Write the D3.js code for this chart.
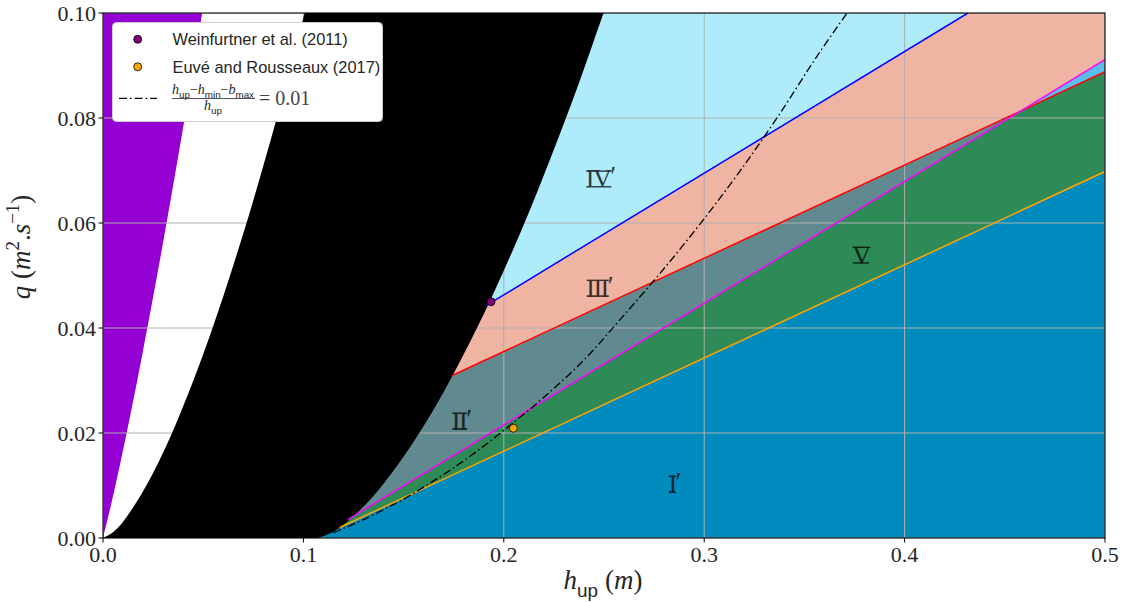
<!DOCTYPE html>
<html>
<head>
<meta charset="utf-8">
<script src="https://cdn.jsdelivr.net/npm/d3@7"></script>
<style>
  html, body { margin: 0; padding: 0; background: #ffffff; }
  svg { display: block; }
</style>
</head>
<body>
<svg id="chart" width="1136" height="602"></svg>
<script>
// ---------------- data ----------------
const xTicks = [0, 0.1, 0.2, 0.3, 0.4, 0.5];
const yTicks = [0, 0.02, 0.04, 0.06, 0.08, 0.10];

// boundary between purple region and white region (h, q)
const purpleBoundary = [[0,0],[0.0032,0.005],[0.0062,0.01],[0.0118,0.02],[0.0171,0.03],[0.0221,0.04],
  [0.0270,0.05],[0.0317,0.06],[0.0363,0.07],[0.0408,0.08],[0.0452,0.09],[0.0495,0.10]];

// left edge of the black region (h, q)
const blackLeft = [[0,0],[0.005,0.0011],[0.01,0.0031],[0.015,0.0058],[0.02,0.0089],[0.025,0.0124],
  [0.03,0.0163],[0.035,0.0205],[0.04,0.0251],[0.045,0.0299],[0.05,0.0350],[0.055,0.0404],[0.06,0.0460],
  [0.065,0.0519],[0.07,0.0580],[0.075,0.0643],[0.08,0.0709],[0.085,0.0776],[0.09,0.0846],[0.095,0.0917],
  [0.1,0.0991],[0.1006,0.10]];

// right edge of the black region (h, q)
const blackRight = [[0.107,0],[0.1140,0.001],[0.1199,0.0025],[0.1274,0.005],[0.1337,0.0075],[0.1393,0.01],
  [0.1491,0.015],[0.1578,0.02],[0.1658,0.025],[0.1731,0.03],[0.1800,0.035],[0.1866,0.04],[0.1929,0.045],
  [0.1989,0.05],[0.2047,0.055],[0.2103,0.06],[0.2157,0.065],[0.2209,0.07],[0.2260,0.075],[0.2310,0.08],
  [0.2359,0.085],[0.2406,0.09],[0.2452,0.095],[0.2498,0.10]];

// coloured regions (polygon vertices h, q)
const regionIV  = [[0.107,0.0248],[0.4316,0.10],[0.107,0.10]];
const regionIII = [[0.107,0.0190],[0.107,0.0248],[0.4316,0.10],[0.5,0.10],[0.5,0.0911],[0.4582,0.0814]];
const regionII  = [[0.107,0],[0.107,0.0190],[0.4582,0.0814]];
const regionX   = [[0.4582,0.0814],[0.5,0.0911],[0.5,0.0888]];
const regionV   = [[0.107,0],[0.4582,0.0814],[0.5,0.0888],[0.5,0.0698]];
const regionI   = [[0.107,0],[0.5,0.0698],[0.5,0]];

// boundary lines (h, q)
const blueLine    = [[0.1913,0.0443],[0.4316,0.10]];
const redLine     = [[0.1745,0.0310],[0.5,0.0888]];
const magentaLine = [[0.1222,0.0035],[0.5,0.0911]];
const orangeLine  = [[0.1181,0.0020],[0.5,0.0698]];

// (h_up - h_min - b_max)/h_up = 0.01 curve (h, q)
const dashDotCurve = [[0.115,0.0010],[0.12,0.0018],[0.13,0.0035],[0.14,0.0054],[0.15,0.0074],[0.16,0.0097],
  [0.17,0.0121],[0.18,0.0147],[0.19,0.0175],[0.2,0.0205],[0.22,0.0268],[0.24,0.0339],[0.258,0.0416],
  [0.2775,0.0502],[0.2975,0.0596],[0.3173,0.0696],[0.337,0.0804],[0.3565,0.0919],[0.3713,0.10]];

// experiments
const experiments = [
  { label: "Weinfurtner et al. (2011)", h: 0.1936, q: 0.0450, color: "#800080" },
  { label: "Euvé and Rousseaux (2017)", h: 0.2048, q: 0.0209, color: "#ffa500" }
];

// region labels
const regionLabels = [
  { num: "IV", prime: true,  h: 0.2485, q: 0.0684 },
  { num: "III", prime: true, h: 0.2480, q: 0.0476 },
  { num: "II", prime: true,  h: 0.1791, q: 0.0223 },
  { num: "V", prime: false,  h: 0.3782, q: 0.0539 },
  { num: "I", prime: true,   h: 0.2854, q: 0.0103 }
];

// ---------------- drawing ----------------
const svg = d3.select("#chart");
const x = d3.scaleLinear().domain([0, 0.5]).range([103, 1105]);
const y = d3.scaleLinear().domain([0, 0.1]).range([538, 13]);

const serif = "'Liberation Serif', 'DejaVu Serif', serif";
const sans = "'Liberation Sans', 'DejaVu Sans', sans-serif";

svg.append("defs").append("clipPath").attr("id", "plotclip")
  .append("rect").attr("x", x(0)).attr("y", y(0.1)).attr("width", x(0.5) - x(0)).attr("height", y(0) - y(0.1));

const plot = svg.append("g").attr("clip-path", "url(#plotclip)");

const poly = d3.line().x(d => x(d[0])).y(d => y(d[1])).curve(d3.curveLinearClosed);
const straight = d3.line().x(d => x(d[0])).y(d => y(d[1]));
const smooth = d3.line().x(d => x(d[0])).y(d => y(d[1])).curve(d3.curveCatmullRom);

// purple region: left of the purple boundary
plot.append("path")
  .attr("d", smooth(purpleBoundary) + straight([[0, 0.1], [0, 0]]).replace(/^M/, "L") + "Z")
  .attr("fill", "#9400d3");

const regions = [
  { pts: regionI,   color: "#008bbe" },
  { pts: regionV,   color: "#2e8b57" },
  { pts: regionII,  color: "#618a90" },
  { pts: regionX,   color: "#59bfea" },
  { pts: regionIII, color: "#efb4a2" },
  { pts: regionIV,  color: "#aeebfb" }
];
plot.selectAll("path.region").data(regions).join("path")
  .attr("class", "region")
  .attr("d", d => poly(d.pts))
  .attr("fill", d => d.color)
  .attr("stroke", d => d.color).attr("stroke-width", 0.5);

// grid
const grid = plot.append("g");
grid.selectAll("line.gx").data(xTicks).join("line")
  .attr("x1", d => x(d)).attr("x2", d => x(d)).attr("y1", y(0)).attr("y2", y(0.1))
  .attr("stroke", "#b0b0b0").attr("stroke-width", 1);
grid.selectAll("line.gy").data(yTicks).join("line")
  .attr("y1", d => y(d)).attr("y2", d => y(d)).attr("x1", x(0)).attr("x2", x(0.5))
  .attr("stroke", "#b0b0b0").attr("stroke-width", 1);

// black region
const blackRightRev = blackRight.slice().reverse();
plot.append("path")
  .attr("d", smooth(blackLeft) + smooth(blackRightRev).replace(/^M/, "L") + "Z")
  .attr("fill", "#000000");

// lines
const lines = [
  { pts: blueLine, color: "#0000ff" },
  { pts: redLine, color: "#ff0000" },
  { pts: magentaLine, color: "#ff00ff" },
  { pts: orangeLine, color: "#ffa500" }
];
plot.selectAll("path.bline").data(lines).join("path")
  .attr("class", "bline")
  .attr("d", d => straight(d.pts))
  .attr("fill", "none").attr("stroke", d => d.color).attr("stroke-width", 1.5);

plot.append("path")
  .attr("d", smooth(dashDotCurve))
  .attr("fill", "none").attr("stroke", "#000").attr("stroke-width", 1.3)
  .attr("stroke-dasharray", "8,3,1.6,3");

// markers
plot.selectAll("circle.exp").data(experiments).join("circle")
  .attr("class", "exp")
  .attr("cx", d => x(d.h)).attr("cy", d => y(d.q)).attr("r", 4)
  .attr("fill", d => d.color).attr("stroke", "#000").attr("stroke-width", 0.8);

// region labels (roman numerals with joined top and bottom serif bars)
const rl = svg.append("g");
const labelSize = 26;
regionLabels.forEach(d => {
  const g = rl.append("g").attr("opacity", 0.75);
  const baseY = y(d.q) + labelSize * 0.33;
  const t = g.append("text")
    .attr("x", x(d.h)).attr("y", baseY)
    .attr("text-anchor", "middle")
    .attr("font-family", serif).attr("font-size", labelSize)
    .attr("fill", "#000");
  t.append("tspan").text(d.num).attr("letter-spacing", -1.5);
  if (d.prime) t.append("tspan").text("′").attr("font-size", 27).attr("dy", -2);
  const node = t.node();
  const n = d.num.length;
  const e0 = node.getExtentOfChar(0), e1 = node.getExtentOfChar(n - 1);
  const left = e0.x + 0.5, right = e1.x + e1.width + (n > 1 ? 1.5 : 0) - 0.5;
  const capH = labelSize * 0.655;
  g.append("rect").attr("x", left).attr("y", baseY - capH).attr("width", right - left).attr("height", 1.4).attr("fill", "#000");
  g.append("rect").attr("x", left).attr("y", baseY - 1.4).attr("width", right - left).attr("height", 1.4).attr("fill", "#000");
});

// spines
svg.append("rect")
  .attr("x", x(0)).attr("y", y(0.1)).attr("width", x(0.5) - x(0)).attr("height", y(0) - y(0.1))
  .attr("fill", "none").attr("stroke", "#000").attr("stroke-width", 1.1);

// ticks
const axes = svg.append("g");
axes.selectAll("line.tx").data(xTicks).join("line")
  .attr("x1", d => x(d)).attr("x2", d => x(d)).attr("y1", y(0)).attr("y2", y(0) + 4.5)
  .attr("stroke", "#000").attr("stroke-width", 1);
axes.selectAll("text.tx").data(xTicks).join("text")
  .attr("x", d => x(d)).attr("y", 562)
  .attr("text-anchor", "middle").attr("font-family", serif).attr("font-size", 22).attr("fill", "#262626")
  .text(d => d3.format(".1f")(d));
axes.selectAll("line.ty").data(yTicks).join("line")
  .attr("y1", d => y(d)).attr("y2", d => y(d)).attr("x1", x(0) - 4.5).attr("x2", x(0))
  .attr("stroke", "#000").attr("stroke-width", 1);
axes.selectAll("text.ty").data(yTicks).join("text")
  .attr("x", 96).attr("y", d => y(d) + 7.5)
  .attr("text-anchor", "end").attr("font-family", serif).attr("font-size", 22).attr("fill", "#262626")
  .text(d => d3.format(".2f")(d));

// math text helper
function mathText(t, parts, size) {
  let off = 0;
  parts.forEach(p => {
    const s = t.append("tspan").text(p.t);
    let target = 0;
    if (p.f === "i") { s.attr("font-family", serif).attr("font-style", "italic").attr("font-size", size); }
    else if (p.f === "r") { s.attr("font-family", serif).attr("font-size", size); }
    else if (p.f === "sub") { s.attr("font-family", sans).attr("font-size", size * 0.7); target = size * 0.28; }
    else if (p.f === "sup") { s.attr("font-family", serif).attr("font-size", size * 0.7); target = -size * 0.4; }
    if (target !== off) { s.attr("dy", target - off); off = target; }
  });
}

// axis labels
const xl = svg.append("text").attr("x", 603).attr("y", 589).attr("text-anchor", "middle").attr("fill", "#262626");
mathText(xl, [{t:"h",f:"i"},{t:"up",f:"sub"},{t:" (",f:"r"},{t:"m",f:"i"},{t:")",f:"r"}], 27);

const yl = svg.append("text").attr("transform", "translate(30,247) rotate(-90)")
  .attr("text-anchor", "middle").attr("fill", "#262626");
mathText(yl, [{t:"q",f:"i"},{t:" (",f:"r"},{t:"m",f:"i"},{t:"2",f:"sup"},{t:".",f:"r"},{t:"s",f:"i"},{t:"−1",f:"sup"},{t:")",f:"r"}], 27);

// legend
const lg = svg.append("g");
lg.append("rect").attr("x", 112.5).attr("y", 22.5).attr("width", 270).attr("height", 99).attr("rx", 4)
  .attr("fill", "#fff").attr("stroke", "#cccccc").attr("stroke-width", 1);
experiments.forEach((d, i) => {
  const cy = 39.3 + i * 27.5;
  lg.append("circle").attr("cx", 137.7).attr("cy", cy).attr("r", 4)
    .attr("fill", d.color).attr("stroke", "#000").attr("stroke-width", 0.8);
  lg.append("text").attr("x", 172.5).attr("y", cy + 6).attr("font-family", sans).attr("font-size", 16.4)
    .attr("fill", "#262626").text(d.label);
});
lg.append("line").attr("x1", 119).attr("x2", 157).attr("y1", 98.3).attr("y2", 98.3)
  .attr("stroke", "#000").attr("stroke-width", 1.3).attr("stroke-dasharray", "8,3,1.6,3");
const num = lg.append("text").attr("x", 213).attr("y", 94).attr("text-anchor", "middle").attr("fill", "#262626");
mathText(num, [{t:"h",f:"i"},{t:"up",f:"sub"},{t:"−",f:"r"},{t:"h",f:"i"},{t:"min",f:"sub"},{t:"−",f:"r"},{t:"b",f:"i"},{t:"max",f:"sub"}], 14);
lg.append("line").attr("x1", 172).attr("x2", 255).attr("y1", 98.5).attr("y2", 98.5)
  .attr("stroke", "#262626").attr("stroke-width", 0.8);
const den = lg.append("text").attr("x", 213).attr("y", 110).attr("text-anchor", "middle").attr("fill", "#262626");
mathText(den, [{t:"h",f:"i"},{t:"up",f:"sub"}], 14);
lg.append("text").attr("x", 259).attr("y", 105).attr("font-family", serif).attr("font-size", 20)
  .attr("fill", "#444").text("= 0.01");
</script>
</body>
</html>
